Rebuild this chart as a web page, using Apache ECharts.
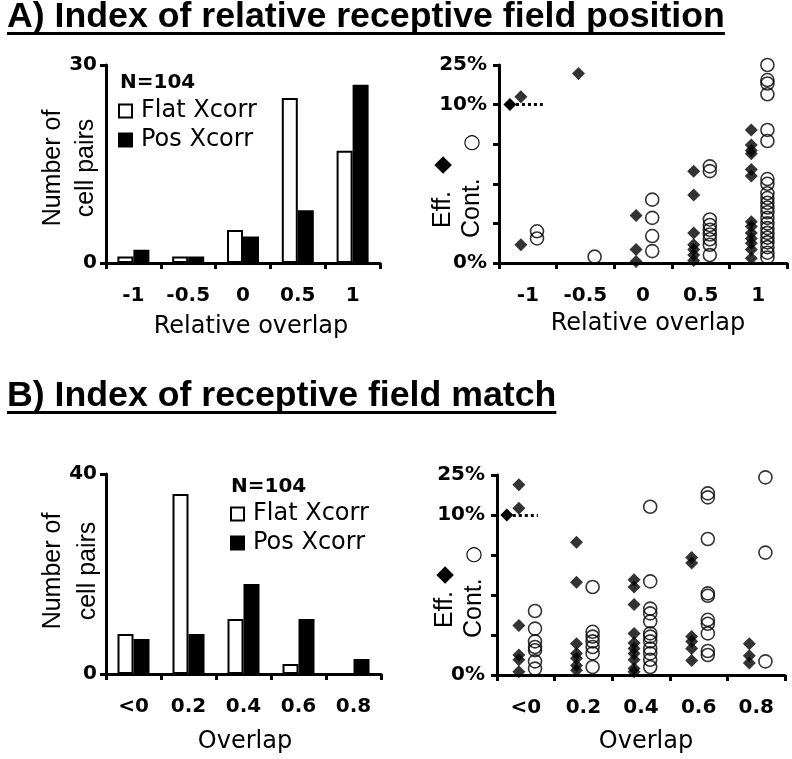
<!DOCTYPE html>
<html><head><meta charset="utf-8">
<script src="https://cdn.jsdelivr.net/npm/echarts@6/dist/echarts.min.js"></script>
<style>html,body{margin:0;padding:0;background:#fff}#c{width:792px;height:759px}</style>
</head><body><div id="c"></div>
<script>
// ---------- data ----------
const catsA = ['-1', '-0.5', '0', '0.5', '1'];
const catsB = ['<0', '0.2', '0.4', '0.6', '0.8'];
const flatA = [1, 1, 5, 25, 17];
const posA  = [2, 1, 4, 8, 27];
const flatB = [8, 36, 11, 2, 0];
const posB  = [7, 8, 18, 11, 3];
const yTicksA = [0, 30];
const yTicksB = [0, 40];
// efficacy / contribution, percent, per category index
const effA = [
  [13, 1.15],
  [21.8],
  [3.0, 0.85, 0.1],
  [5.8, 4.3, 1.9, 1.15, 0.85, 0.5, 0.15],
  [8.4, 7.45, 7.1, 6.9, 5.9, 5.5, 2.6, 2.3, 1.9, 1.55, 1.25, 0.85, 0.3]
];
const contA = [
  [2.0, 1.55],
  [0.4],
  [4.0, 2.85, 1.7, 0.75],
  [6.1, 5.8, 2.75, 2.4, 2.1, 1.8, 1.5, 1.15, 0.5],
  [25, 19.3, 18, 13.9, 8.4, 7.7, 5.3, 5.0, 4.4, 4.1, 3.8, 3.5, 3.2, 2.85, 2.5, 2.2, 1.9, 1.6, 1.3, 1.0, 0.65, 0.35]
];
const effB = [
  [21.3, 12.5, 3.1, 1.25, 0.95, 0.2],
  [8.3, 5.8, 1.95, 1.35, 1.05, 0.6, 0.3],
  [5.95, 5.5, 4.4, 2.6, 2.0, 1.65, 1.35, 0.95, 0.4, 0.2],
  [7.35, 7.0, 2.4, 2.1, 1.65, 0.9],
  [1.95, 1.2, 0.75]
];
const contB = [
  [4.0, 2.9, 2.1, 1.75, 1.55, 0.85, 0.4],
  [5.5, 2.7, 2.4, 2.1, 1.75, 1.35, 0.5],
  [13.1, 5.85, 4.15, 3.85, 3.35, 2.6, 2.4, 2.1, 1.65, 1.35, 0.95, 0.5],
  [18.1, 16.6, 8.5, 5.1, 4.95, 3.45, 3.2, 2.6, 1.5, 1.25],
  [24.1, 7.65, 0.85]
];
const pctTicks = [0, 2.5, 5, 7.5, 10, 25];
const pctTickLabels = ['0%', '', '', '', '10%', '25%'];
const thresholdPct = 10;

// ---------- helpers ----------
// broken percent axis: 0..10% linear in 2.5% steps, then 10..25% in one step
function pToV(p) {
  for (let i = 1; i < pctTicks.length; i++) {
    if (p <= pctTicks[i]) return (i - 1) + (p - pctTicks[i - 1]) / (pctTicks[i] - pctTicks[i - 1]);
  }
  return pctTicks.length - 1;
}
function pts(groups, off) {
  const out = [];
  groups.forEach((g, i) => g.forEach(p => out.push([i + 0.5 + off, pToV(p)])));
  return out;
}

const BOLD = '"DejaVu Sans"';
const REG = '"DejaVu Sans"';
const ROT = '"Liberation Sans", "DejaVu Sans"';
const TITLE = '"Liberation Sans", Arial, sans-serif';

function catAxis(grid, cats) {
  return {
    type: 'category', gridIndex: grid, data: cats, boundaryGap: true,
    axisLine: { lineStyle: { color: '#000', width: 3 } },
    axisTick: { show: true, length: 6, lineStyle: { color: '#000', width: 3 } },
    axisLabel: { interval: 0, color: '#000', fontFamily: BOLD, fontWeight: 'bold', fontSize: 20, margin: 23 },
    splitLine: { show: false }
  };
}
function hiddenX(grid) {
  return { type: 'value', gridIndex: grid, min: 0, max: 5, show: false };
}
function countAxis(grid, ticks) {
  return {
    type: 'value', gridIndex: grid, min: ticks[0], max: ticks[1], interval: ticks[1] - ticks[0],
    axisLine: { show: true, lineStyle: { color: '#000', width: 3 } },
    axisTick: { show: true, length: 6, lineStyle: { color: '#000', width: 3 } },
    axisLabel: { color: '#000', fontFamily: BOLD, fontWeight: 'bold', fontSize: 20, margin: 9 },
    splitLine: { show: false }
  };
}
function pctAxis(grid) {
  return {
    type: 'value', gridIndex: grid, min: 0, max: pctTicks.length - 1, interval: 1,
    axisLine: { show: true, lineStyle: { color: '#000', width: 3 } },
    axisTick: { show: true, length: 6, lineStyle: { color: '#000', width: 3 } },
    axisLabel: { color: '#000', fontFamily: BOLD, fontWeight: 'bold', fontSize: 20, margin: 12,
      formatter: v => pctTickLabels[Math.round(v)] },
    splitLine: { show: false }
  };
}
function flatBar(x, y, data) {
  return { name: 'Flat Xcorr', type: 'bar', xAxisIndex: x, yAxisIndex: y, data: data,
    barWidth: 16, barGap: '0%', itemStyle: { color: '#fff', borderColor: '#000', borderWidth: 2 } };
}
function posBar(x, y, data) {
  return { name: 'Pos Xcorr', type: 'bar', xAxisIndex: x, yAxisIndex: y, data: data,
    barWidth: 16, barGap: '0%', itemStyle: { color: '#000', borderColor: '#000', borderWidth: 2 } };
}
function effSeries(x, y, groups, arrowStart, arrowEnd) {
  return { type: 'scatter', xAxisIndex: x, yAxisIndex: y, data: pts(groups, -0.12),
    symbol: 'diamond', symbolSize: 13, itemStyle: { color: '#000' }, z: 3,
    markLine: { silent: true, symbol: ['diamond', 'none'], symbolSize: 13,
      lineStyle: { color: '#000', type: 'dotted', width: 3 }, label: { show: false },
      data: [[{ coord: [arrowStart, pToV(thresholdPct)] }, { coord: [arrowEnd, pToV(thresholdPct)] }]] } };
}
function contSeries(x, y, groups) {
  return { type: 'scatter', xAxisIndex: x, yAxisIndex: y, data: pts(groups, 0.16),
    symbol: 'circle', symbolSize: 13, z: 4,
    itemStyle: { color: 'rgba(0,0,0,0)', borderColor: '#000', borderWidth: 1.6 } };
}
function xName(txt, x, y) {
  return { type: 'text', x: x, y: y, style: { text: txt, fill: '#000', font: '24px ' + REG, textAlign: 'center', textVerticalAlign: 'middle' } };
}
function rotText(txt, x, y, align) {
  return { type: 'text', x: x, y: y, rotation: Math.PI / 2,
    style: { text: txt, fill: '#000', font: '25px ' + ROT, textAlign: align, textVerticalAlign: 'middle' } };
}
function glyph(ch, x, y, size) {
  return { type: 'text', x: x, y: y,
    style: { text: ch, fill: '#000', font: size + 'px "DejaVu Sans"', textAlign: 'center', textVerticalAlign: 'middle' } };
}
function measure(txt, font) {
  const ctx = document.createElement('canvas').getContext('2d');
  ctx.font = font; return ctx.measureText(txt).width;
}
const titleFont = 'bold 35.7px ' + TITLE;
const titleA = 'A) Index of relative receptive field position';
const titleB = 'B) Index of receptive field match';
function legendCfg(left, top) {
  return { orient: 'vertical', left: left, top: top, itemWidth: 13, itemHeight: 13, itemGap: 5, padding: 0,
    icon: 'rect', textStyle: { fontFamily: REG, fontSize: 24, color: '#000', padding: [0, 0, 0, 4] },
    data: [{ name: 'Flat Xcorr', itemStyle: { color: '#fff', borderColor: '#000', borderWidth: 2 } },
           { name: 'Pos Xcorr', itemStyle: { color: '#000', borderColor: '#000', borderWidth: 2 } }] };
}

const chart = echarts.init(document.getElementById('c'), null, { renderer: 'canvas' });
chart.setOption({
  backgroundColor: '#fff',
  animation: false,
  grid: [
    { left: 106, top: 65, width: 274, height: 198 },
    { left: 499, top: 65, width: 288, height: 198 },
    { left: 106, top: 474, width: 275, height: 200 },
    { left: 497, top: 475, width: 288, height: 200 }
  ],
  xAxis: [catAxis(0, catsA), catAxis(1, catsA), hiddenX(1), catAxis(2, catsB), catAxis(3, catsB), hiddenX(3)],
  yAxis: [countAxis(0, yTicksA), pctAxis(1), countAxis(2, yTicksB), pctAxis(3)],
  legend: [legendCfg(118, 99), legendCfg(230, 502)],
  series: [
    flatBar(0, 0, flatA), posBar(0, 0, posA),
    effSeries(2, 1, effA, 0.19, 0.76), contSeries(2, 1, contA),
    flatBar(3, 2, flatB), posBar(3, 2, posB),
    effSeries(5, 3, effB, 0.17, 0.71), contSeries(5, 3, contB)
  ],
  graphic: [
    { type: 'text', x: 7, y: 17, style: { text: titleA, fill: '#000', font: titleFont, textVerticalAlign: 'middle' } },
    { type: 'rect', shape: { x: 7, y: 32, width: measure(titleA, titleFont), height: 3 }, style: { fill: '#000' } },
    { type: 'text', x: 7, y: 396, style: { text: titleB, fill: '#000', font: titleFont, textVerticalAlign: 'middle' } },
    { type: 'rect', shape: { x: 7, y: 411, width: measure(titleB, titleFont), height: 3 }, style: { fill: '#000' } },
    { type: 'text', x: 120, y: 83, style: { text: 'N=104', fill: '#000', font: 'bold 20px ' + BOLD, textVerticalAlign: 'middle' } },
    { type: 'text', x: 231, y: 487, style: { text: 'N=104', fill: '#000', font: 'bold 20px ' + BOLD, textVerticalAlign: 'middle' } },
    xName('Relative overlap', 251, 327),
    xName('Relative overlap', 648, 324),
    xName('Overlap', 245, 742),
    xName('Overlap', 646, 742),
    rotText('Number of', 53, 168, 'center'),
    rotText('cell pairs', 86, 168, 'center'),
    rotText('Number of', 53, 571, 'center'),
    rotText('cell pairs', 88, 571, 'center'),
    rotText('Eff.', 443, 228, 'left'),
    rotText('Cont.', 472, 238, 'left'),
    rotText('Eff.', 445, 628, 'left'),
    rotText('Cont.', 474, 638, 'left'),
    glyph('\u25C6', 443, 165, 23),
    glyph('\u25CB', 472, 143, 20),
    glyph('\u25C6', 445, 575, 23),
    glyph('\u25CB', 474, 555, 20)
  ]
});
</script></body></html>
